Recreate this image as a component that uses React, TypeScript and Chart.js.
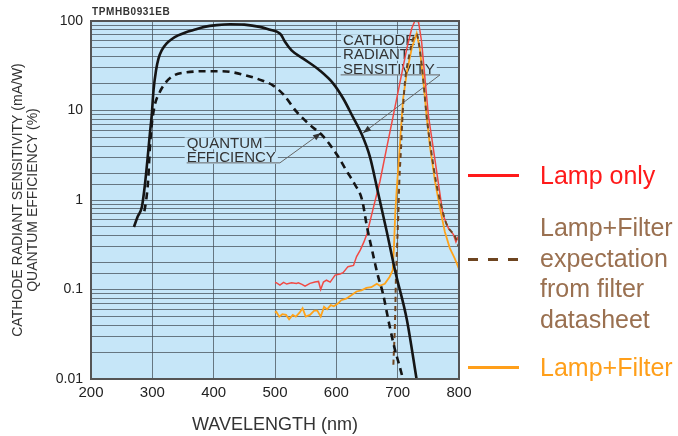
import React, { useEffect, useRef } from 'react';
import { Chart, registerables } from 'chart.js';

Chart.register(...registerables);

// ---------- data ----------
const xTickValues = [200, 300, 400, 500, 600, 700, 800];
const yTickLabels = ['0.01', '0.1', '1', '10', '100'];

const cathodeNm = [270, 276, 283, 288, 292, 296, 299, 302, 306, 310, 316, 323, 332, 342, 355, 366, 385, 405, 427, 450, 475, 492, 503, 510, 516, 527, 546, 573, 595, 611, 628, 641, 655, 667, 682, 696, 715, 731];
const cathodeVal = [0.5, 0.65, 0.84, 1.5, 2.8, 5.5, 8.9, 17, 28, 38, 48, 56, 63, 69, 75, 79, 86, 90, 92, 91, 86, 80, 76, 70, 59, 47, 38, 28, 20, 13.7, 8.2, 5.5, 3.0, 1.3, 0.45, 0.16, 0.046, 0.0098];

const qeNm = [287, 290, 293, 296, 299, 304, 312, 323, 337, 356, 389, 410, 427, 459, 480, 497, 514, 535, 557, 579, 601, 617, 630, 642, 650, 658, 667, 676, 685, 695, 703, 709];
const qeVal = [0.75, 1.0, 1.6, 3.8, 6.9, 11.5, 16, 21, 25, 26.7, 27.5, 27.5, 27, 24, 21.5, 19, 15, 9.7, 6.9, 5.1, 3.2, 2.1, 1.5, 1.0, 0.5, 0.28, 0.15, 0.09, 0.045, 0.022, 0.014, 0.0098];

const lampNm = [500, 502, 508, 514, 519, 527, 535, 538, 544, 549, 557, 565, 571, 574.5, 579, 584, 590, 598, 606, 611, 619, 628, 633, 639, 645, 650, 660, 671, 682, 693, 704, 715, 723, 728, 734, 739, 745, 750, 758, 766, 774, 783, 791, 795, 798, 800];
const lampVal = [0.12, 0.119, 0.112, 0.12, 0.115, 0.119, 0.117, 0.119, 0.114, 0.109, 0.117, 0.121, 0.123, 0.1, 0.121, 0.127, 0.121, 0.145, 0.149, 0.154, 0.18, 0.186, 0.233, 0.276, 0.34, 0.42, 0.8, 1.6, 3.8, 8.9, 21, 49.5, 83, 100, 98, 59, 21, 8.9, 3.8, 1.6, 0.68, 0.48, 0.41, 0.34, 0.38, 0.36];

const filterNm = [500, 502, 507, 512, 518, 523, 529, 534, 540, 545, 550, 557, 564, 569, 574.5, 580, 585, 591, 596, 603, 608, 616, 625, 633, 641, 649, 657, 666, 671, 679, 687, 692, 694, 696, 699, 702, 705, 709, 715, 723, 731, 736, 742, 747, 753, 761, 769, 777, 785, 793, 800];
const filterVal = [0.055, 0.0565, 0.0497, 0.053, 0.052, 0.0465, 0.052, 0.0497, 0.055, 0.0617, 0.0497, 0.052, 0.058, 0.058, 0.0497, 0.064, 0.06, 0.067, 0.065, 0.07, 0.076, 0.079, 0.087, 0.095, 0.098, 0.104, 0.106, 0.116, 0.11, 0.116, 0.139, 0.165, 0.3, 0.7, 1.5, 2.8, 5.8, 13.7, 27, 49.5, 73, 49.5, 21, 8.9, 3.8, 1.6, 0.81, 0.44, 0.29, 0.223, 0.17];

const expectNm = [693, 696, 697, 699, 701, 702.7, 705.5, 708, 712, 719, 725.5, 731, 735, 742, 747, 754, 762.5, 772, 780, 788, 792, 795, 799, 800];
const expectVal = [0.0144, 0.053, 0.12, 0.29, 0.68, 1.6, 3.8, 8.9, 21, 42, 64, 71, 54, 21, 8.9, 3.8, 1.6, 0.81, 0.53, 0.44, 0.41, 0.37, 0.31, 0.33];

const cathodeLabel = ['CATHODE', 'RADIANT', 'SENSITIVITY'];
const qeLabel = ['QUANTUM', 'EFFICIENCY'];
const legendLamp = 'Lamp only';
const legendExpect = ['Lamp+Filter', 'expectation', 'from filter', 'datasheet'];
const legendFilter = 'Lamp+Filter';

// ---------- styles ----------
const FONT = "'Liberation Sans', Arial, Helvetica, sans-serif";
const PLOT_BG = '#c6e6f8';
const GRID = 'rgba(70,80,90,0.75)';
const RED = '#f04a44';
const ORANGE = '#ffa31a';
const BROWN = '#6e4520';

const toPts = (xs: number[], ys: number[]) => xs.map((x, i) => ({ x, y: ys[i] }));

const decoPlugin = {
  id: 'deco',
  beforeDraw(chart: any) {
    const { ctx, chartArea: a } = chart;
    ctx.save();
    ctx.fillStyle = PLOT_BG;
    ctx.fillRect(a.left, a.top, a.right - a.left, a.bottom - a.top);
    ctx.restore();
  },
  beforeDatasetsDraw(chart: any) {
    const { ctx } = chart;
    const xs = chart.scales.x;
    const ys = chart.scales.y;
    ctx.save();
    ctx.font = `15px ${FONT}`;
    ctx.textBaseline = 'middle';
    const drawBlock = (lines: string[], nm: number, v: number) => {
      const x0 = xs.getPixelForValue(nm);
      const y0 = ys.getPixelForValue(v);
      lines.forEach((t, i) => {
        const w = ctx.measureText(t).width;
        const y = y0 + i * 14.5;
        ctx.fillStyle = PLOT_BG;
        ctx.fillRect(x0 - 2, y - 6, w + 4, 12);
        ctx.fillStyle = '#333';
        ctx.fillText(t, x0, y + 0.5);
      });
    };
    drawBlock(cathodeLabel, 611, 61);
    drawBlock(qeLabel, 356, 4.3);

    const callout = (nm0: number, nm1: number, v: number, tipNm: number, tipV: number) => {
      const x0 = xs.getPixelForValue(nm0);
      const x1 = xs.getPixelForValue(nm1);
      const y = ys.getPixelForValue(v);
      const tx = xs.getPixelForValue(tipNm);
      const ty = ys.getPixelForValue(tipV);
      ctx.strokeStyle = '#666';
      ctx.lineWidth = 1;
      ctx.beginPath();
      ctx.moveTo(x0, y);
      ctx.lineTo(x1, y);
      ctx.lineTo(tx, ty);
      ctx.stroke();
      const ang = Math.atan2(ty - y, tx - x1);
      ctx.fillStyle = '#333';
      ctx.beginPath();
      ctx.moveTo(tx, ty);
      ctx.lineTo(tx - 8 * Math.cos(ang) + 3 * Math.sin(ang), ty - 8 * Math.sin(ang) - 3 * Math.cos(ang));
      ctx.lineTo(tx - 8 * Math.cos(ang) - 3 * Math.sin(ang), ty - 8 * Math.sin(ang) + 3 * Math.cos(ang));
      ctx.closePath();
      ctx.fill();
    };
    callout(607, 769, 25, 643.5, 5.6);
    callout(356, 508, 2.6, 575, 5.6);
    ctx.restore();
  },
  afterDatasetsDraw(chart: any) {
    const { ctx, chartArea: a } = chart;
    ctx.save();
    ctx.strokeStyle = '#555';
    ctx.lineWidth = 2;
    ctx.strokeRect(a.left, a.top, a.right - a.left, a.bottom - a.top);
    ctx.restore();
  },
};

export default function App() {
  const ref = useRef<HTMLCanvasElement | null>(null);

  useEffect(() => {
    if (!ref.current) return;
    const chart = new Chart(ref.current, {
      type: 'line',
      data: {
        datasets: [
          {
            label: 'Cathode radiant sensitivity',
            data: toPts(cathodeNm, cathodeVal),
            borderColor: '#151515',
            borderWidth: 2.6,
            pointRadius: 0,
            cubicInterpolationMode: 'monotone',
          },
          {
            label: 'Quantum efficiency',
            data: toPts(qeNm, qeVal),
            borderColor: '#151515',
            borderWidth: 2.6,
            borderDash: [7, 5],
            pointRadius: 0,
            cubicInterpolationMode: 'monotone',
          },
          {
            label: 'Lamp+Filter expectation',
            data: toPts(expectNm, expectVal),
            borderColor: BROWN,
            borderWidth: 2,
            borderDash: [5, 4],
            pointRadius: 0,
            cubicInterpolationMode: 'monotone',
          },
          {
            label: 'Lamp+Filter',
            data: toPts(filterNm, filterVal),
            borderColor: ORANGE,
            borderWidth: 1.8,
            pointRadius: 0,
            tension: 0,
          },
          {
            label: 'Lamp only',
            data: toPts(lampNm, lampVal),
            borderColor: RED,
            borderWidth: 1.5,
            pointRadius: 0,
            tension: 0,
          },
        ],
      },
      options: {
        animation: false,
        responsive: false,
        maintainAspectRatio: false,
        devicePixelRatio: 1,
        layout: { padding: { left: 0, right: 219, top: 21, bottom: 0 } },
        plugins: { legend: { display: false }, tooltip: { enabled: false } },
        scales: {
          x: {
            type: 'linear',
            min: 200,
            max: 800,
            afterBuildTicks: (s: any) => {
              s.ticks = xTickValues.map((v) => ({ value: v }));
            },
            afterFit: (s: any) => {
              s.height = 57;
            },
            ticks: {
              color: '#222',
              font: { family: FONT, size: 15 },
              padding: 5,
              maxRotation: 0,
              autoSkip: false,
            },
            grid: { color: GRID, lineWidth: 1, drawTicks: false },
            border: { display: false },
            title: {
              display: true,
              text: 'WAVELENGTH (nm)',
              color: '#333',
              font: { family: FONT, size: 18 },
              padding: { top: 0, bottom: 0 },
            },
          },
          y: {
            type: 'logarithmic',
            min: 0.01,
            max: 100,
            afterFit: (s: any) => {
              s.width = 91;
            },
            ticks: {
              color: '#222',
              font: { family: FONT, size: 14 },
              padding: 8,
              autoSkip: false,
              callback: (v: any) => {
                const l = Math.log10(Number(v));
                const r = Math.round(l);
                if (Math.abs(l - r) < 1e-6) return yTickLabels[r + 2];
                return '';
              },
            },
            grid: { color: GRID, lineWidth: 1, drawTicks: false },
            border: { display: false },
            title: {
              display: true,
              text: ['CATHODE RADIANT SENSITIVITY (mA/W)', 'QUANTUM EFFICIENCY (%)'],
              color: '#333',
              font: { family: FONT, size: 14, lineHeight: 1.1 },
              padding: { top: 10, bottom: 0 },
            },
          },
        },
      },
      plugins: [decoPlugin],
    } as any);
    return () => chart.destroy();
  }, []);

  const legendText = (color: string) => ({
    position: 'absolute' as const,
    left: 540,
    fontFamily: FONT,
    fontSize: 25,
    lineHeight: '30.5px',
    color,
    whiteSpace: 'nowrap' as const,
  });

  return (
    <div style={{ position: 'fixed', left: 0, top: 0, width: 678, height: 436, background: '#fff', overflow: 'hidden' }}>
      <canvas ref={ref} width={678} height={436} style={{ position: 'absolute', left: 0, top: 0, width: 678, height: 436 }} />
      <div style={{ position: 'absolute', left: 92, top: 6, fontFamily: FONT, fontSize: 10, fontWeight: 'bold', color: '#333', letterSpacing: '0.6px' }}>TPMHB0931EB</div>

      <div style={{ position: 'absolute', left: 468, top: 174, width: 51, height: 2.5, background: '#ff1a1a' }} />
      <div style={{ ...legendText('#ff1a1a'), top: 160 }}>{legendLamp}</div>

      <div style={{ position: 'absolute', left: 468, top: 258, width: 51, height: 2.5, background: `repeating-linear-gradient(to right, ${BROWN} 0px, ${BROWN} 10px, transparent 10px, transparent 20px)` }} />
      <div style={{ ...legendText('#9a7050'), top: 212 }}>
        {legendExpect.map((t) => (
          <div key={t}>{t}</div>
        ))}
      </div>

      <div style={{ position: 'absolute', left: 468, top: 366, width: 51, height: 2.5, background: '#ff9f1a' }} />
      <div style={{ ...legendText('#ff9f1a'), top: 352 }}>{legendFilter}</div>
    </div>
  );
}
